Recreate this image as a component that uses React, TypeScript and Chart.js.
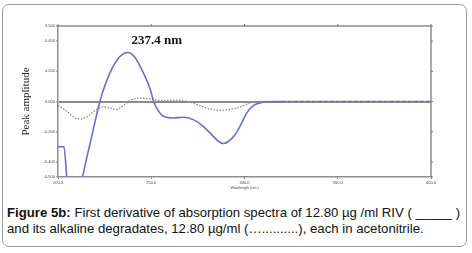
import React, { useEffect, useRef } from "react";
import { Chart, registerables } from "chart.js";
Chart.register(...registerables);

// RIV first derivative (solid blue)
const rivWavelengths = [200, 203.2, 204.7, 206.5, 209, 211, 213.2, 218.1, 222.5, 227.9, 233.2, 237.4, 241.3, 245.7, 249.5, 251.3, 253, 256.5, 261.8, 267.2, 272.5, 277.9, 283.3, 286.5, 288.7, 291, 294.9, 298.5, 301.2, 304.7, 308.3, 311.9, 320, 340, 360, 380, 400];
const rivValues = [-0.3, -0.3, -0.5, -0.68, -0.74, -0.66, -0.5, -0.231, 0.002, 0.191, 0.298, 0.325, 0.291, 0.191, 0.08, 0.0, -0.045, -0.098, -0.109, -0.104, -0.12, -0.164, -0.231, -0.268, -0.278, -0.268, -0.22, -0.142, -0.075, -0.027, -0.009, -0.002, 0, 0, 0, 0, 0];

// Alkaline degradates (dotted grey)
const degWavelengths = [200, 204.7, 208.2, 211.8, 215.4, 220.7, 224.3, 227.9, 231.5, 235, 238.6, 244, 249.3, 254.7, 265.4, 270.8, 276.1, 281.5, 286.9, 292.2, 297.6, 303, 308.3, 340, 370, 400];
const degValues = [-0.027, -0.064, -0.102, -0.115, -0.102, -0.053, -0.036, -0.042, -0.053, -0.027, 0.007, 0.022, 0.018, 0.007, 0.007, -0.004, -0.027, -0.049, -0.058, -0.053, -0.036, -0.009, 0, 0, 0, 0];

const xTicks = [200, 250, 300, 350, 400];
const yTicks = [-0.5, -0.4, -0.2, 0, 0.2, 0.4, 0.5];
const peakLabel = "237.4 nm";
const peakLabelPos = { x: 253, y: 0.4 };

export default function App() {
  const ref = useRef<HTMLCanvasElement | null>(null);

  useEffect(() => {
    const canvas = ref.current;
    if (!canvas) return;

    const framePlugin = {
      id: "frame",
      afterDatasetsDraw(chart: any) {
        const { ctx, chartArea } = chart;
        const xs = chart.scales.x;
        const ys = chart.scales.y;
        ctx.save();
        ctx.strokeStyle = "#8c8c8c";
        ctx.lineWidth = 1.5;
        ctx.beginPath();
        ctx.moveTo(chartArea.left, chartArea.top);
        ctx.lineTo(chartArea.right, chartArea.top);
        ctx.lineTo(chartArea.right, chartArea.bottom);
        ctx.stroke();
        ctx.lineWidth = 1;
        ctx.strokeStyle = "#777";
        ctx.beginPath();
        for (const v of xTicks) {
          const px = xs.getPixelForValue(v);
          ctx.moveTo(px, chartArea.top);
          ctx.lineTo(px, chartArea.top - 2);
        }
        for (const v of yTicks) {
          const py = ys.getPixelForValue(v);
          ctx.moveTo(chartArea.right, py);
          ctx.lineTo(chartArea.right + 2, py);
        }
        ctx.stroke();
        ctx.fillStyle = "#111";
        ctx.font = "bold 13px 'Liberation Serif', 'Times New Roman', serif";
        ctx.textAlign = "center";
        ctx.textBaseline = "middle";
        ctx.fillText(peakLabel, xs.getPixelForValue(peakLabelPos.x), ys.getPixelForValue(peakLabelPos.y));
        ctx.restore();
      },
    };

    const chart = new Chart(canvas, {
      type: "line",
      data: {
        datasets: [
          {
            label: "RIV",
            data: rivWavelengths.map((x, i) => ({ x, y: rivValues[i] })),
            borderColor: "rgb(108,108,218)",
            borderWidth: 1.6,
            pointRadius: 0,
            cubicInterpolationMode: "monotone",
            fill: false,
            segment: {
              borderDash: (c: any) => (c.p0.parsed.x >= 312 ? [4, 2] : undefined),
            },
          },
          {
            label: "Alkaline degradates",
            data: degWavelengths.map((x, i) => ({ x, y: degValues[i] })),
            borderColor: "rgb(140,140,140)",
            borderWidth: 1.3,
            borderDash: [1.5, 1.5],
            pointRadius: 0,
            cubicInterpolationMode: "monotone",
            fill: false,
          },
        ],
      },
      options: {
        animation: false,
        responsive: false,
        devicePixelRatio: 1,
        layout: { padding: { left: 0, right: 41, top: 26, bottom: 0 } },
        plugins: { legend: { display: false }, tooltip: { enabled: false } },
        scales: {
          x: {
            type: "linear",
            min: 200,
            max: 400,
            afterBuildTicks: (s: any) => {
              s.ticks = xTicks.map((v) => ({ value: v }));
            },
            afterFit: (s: any) => {
              s.height = 23;
            },
            ticks: {
              font: { size: 4, family: "'Liberation Sans', Arial, sans-serif" },
              color: "#444",
              padding: 1,
              maxRotation: 0,
              autoSkip: false,
              callback: (v: any) => Number(v).toFixed(1),
            },
            grid: { drawOnChartArea: false, tickLength: 2, tickColor: "#777" },
            border: { display: true, color: "#8c8c8c", width: 1.5 },
            title: {
              display: true,
              text: "Wavelength (nm.)",
              font: { size: 3.6, family: "'Liberation Sans', Arial, sans-serif" },
              color: "#444",
              padding: { top: 0, bottom: 10 },
            },
          },
          y: {
            type: "linear",
            min: -0.5,
            max: 0.5,
            afterBuildTicks: (s: any) => {
              s.ticks = yTicks.map((v) => ({ value: v }));
            },
            afterFit: (s: any) => {
              s.width = 58;
            },
            ticks: {
              font: { size: 4, family: "'Liberation Sans', Arial, sans-serif" },
              color: "#444",
              padding: 1,
              autoSkip: false,
              callback: (v: any) => Number(v).toFixed(3),
            },
            grid: {
              drawOnChartArea: true,
              color: (c: any) => (c.tick && c.tick.value === 0 ? "rgb(140,140,140)" : "rgba(0,0,0,0)"),
              lineWidth: (c: any) => (c.tick && c.tick.value === 0 ? 2 : 0),
              tickLength: 2,
              tickColor: "#777",
              tickWidth: 1,
            },
            border: { display: true, color: "#8c8c8c", width: 1.5 },
            title: {
              display: true,
              text: "Peak amplitude",
              font: { size: 11, family: "'Liberation Serif', 'Times New Roman', serif" },
              color: "#222",
              padding: { top: 20, bottom: 0 },
            },
          },
        },
      },
      plugins: [framePlugin],
    });
    return () => chart.destroy();
  }, []);

  return (
    <div style={{ position: "absolute", left: 0, top: 0, width: 472, height: 253, background: "#fff" }}>
      <div
        style={{
          position: "absolute",
          left: 2,
          top: 4,
          width: 465,
          height: 243,
          border: "1px solid #9a9a9a",
          borderRadius: 7,
          boxSizing: "border-box",
        }}
      />
      <canvas ref={ref} width={472} height={200} style={{ position: "absolute", left: 0, top: 0, width: 472, height: 200 }} />
      <div
        style={{
          position: "absolute",
          left: 7,
          top: 205,
          fontFamily: "'Liberation Sans', Arial, sans-serif",
          fontSize: 13.2,
          lineHeight: "16px",
          color: "#111",
          whiteSpace: "nowrap",
        }}
      >
        <b>Figure 5b:</b> First derivative of absorption spectra of 12.80 µg /ml RIV ( _____ )
        <br />
        and its alkaline degradates, 12.80 µg/ml (…..........), each in acetonitrile.
      </div>
    </div>
  );
}
